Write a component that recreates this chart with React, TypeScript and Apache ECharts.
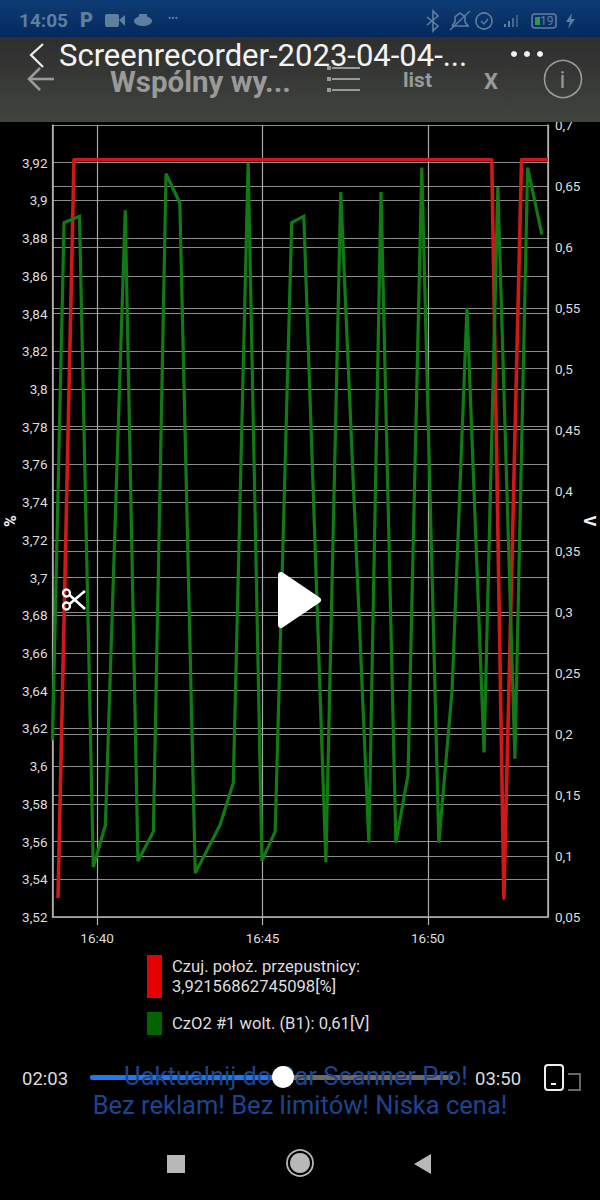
import React, { useEffect, useRef } from "react";
import * as echarts from "echarts";

const redName = "Czuj. położ. przepustnicy:\n3,92156862745098[%]";
const greenName = "CzO2 #1 wolt. (B1): 0,61[V]";

const redTimes = ["16:38:49", "16:39:18", "16:51:56", "16:52:18", "16:52:50", "16:53:38"];
const redValues = [3.53, 3.92157, 3.92157, 3.53, 3.92157, 3.92157];

const greenTimes = [
  "16:38:39", "16:39:00", "16:39:28", "16:39:53", "16:40:15", "16:40:51", "16:41:14", "16:41:42",
  "16:42:05", "16:42:30", "16:42:58", "16:43:43", "16:44:07", "16:44:34", "16:44:59", "16:45:23",
  "16:45:53", "16:46:15", "16:46:55", "16:47:22", "16:48:13", "16:48:35", "16:49:02", "16:49:24",
  "16:49:49", "16:50:20", "16:50:44", "16:51:11", "16:51:42", "16:52:07", "16:52:38", "16:53:01",
  "16:53:27",
];
const greenValues = [
  0.195, 0.62, 0.625, 0.091, 0.1255, 0.63, 0.096, 0.12,
  0.66, 0.636, 0.086, 0.1255, 0.16, 0.669, 0.096, 0.12,
  0.62, 0.625, 0.095, 0.645, 0.111, 0.645, 0.111, 0.1665,
  0.665, 0.111, 0.236, 0.55, 0.185, 0.649, 0.18, 0.665,
  0.61,
];

const toMs = (s: string) => {
  const [h, m, sec] = s.split(":").map(Number);
  return new Date(2023, 3, 4, h, m, sec).getTime();
};
const comma = (v: number) => String(Math.round(v * 100) / 100).replace(".", ",");

const FONT = "Roboto";
const gridColor = "#8c8c8c";
const axisColor = "#b4b4b4";

function chrome(): any[] {
  const T = (x: number, y: number, text: string, size: number, fill: string, extra: any = {}) => ({
    type: "text", x, y, z: 50,
    style: { text, fontSize: size, fontFamily: FONT, fill, textVerticalAlign: "middle", verticalAlign: "middle", ...extra },
  });
  const R = (x: number, y: number, w: number, h: number, fill: any, extra: any = {}) => ({
    type: "rect", z: 40, shape: { x, y, width: w, height: h, ...extra }, style: { fill },
  });
  const L = (pts: number[][], stroke: string, lineWidth: number, z = 45) => ({
    type: "polyline", z, shape: { points: pts }, style: { stroke, lineWidth, fill: "none" },
  });
  const statusInk = "#5f7f9f";
  const headerInk = "#9a9a9a";
  const out: any[] = [
    R(0, 0, 600, 37, new echarts.graphic.LinearGradient(0, 0, 0, 1, [
      { offset: 0, color: "#0e3c74" }, { offset: 1, color: "#04295f" },
    ])),
    R(0, 37, 600, 85, new echarts.graphic.LinearGradient(0, 0, 0, 1, [
      { offset: 0, color: "#2e2e2e" }, { offset: 1, color: "#40443e" },
    ])),
    // status bar
    T(19, 20, "14:05", 19, statusInk, { fontWeight: "bold" }),
    T(80, 20, "P", 20, statusInk, { fontWeight: "900" }),
    R(105, 14, 14, 13, statusInk, { r: 2 }),
    { type: "polygon", z: 45, shape: { points: [[119, 20], [125, 15], [125, 26]] }, style: { fill: statusInk } },
    { type: "ellipse", z: 45, shape: { cx: 143, cy: 21, rx: 9, ry: 5 }, style: { fill: statusInk } },
    R(139, 14, 8, 4, statusInk),
    T(168, 18, "•••", 10, statusInk),
    L([[427, 17], [438, 26], [433, 31], [433, 11], [438, 16], [427, 25]], statusInk, 1.6),
    L([[452, 26], [455, 22], [455, 17], [460, 13], [465, 17], [465, 22], [468, 26], [452, 26]], statusInk, 1.6),
    L([[450, 30], [470, 11]], statusInk, 1.4),
    { type: "circle", z: 45, shape: { cx: 484, cy: 21, r: 8 }, style: { stroke: statusInk, fill: "none", lineWidth: 1.6 } },
    L([[481, 21], [484, 24], [488, 19]], statusInk, 1.3),
    R(504, 24, 2, 3, statusInk), R(508, 21, 2, 6, statusInk), R(512, 18, 2, 9, "#4a6a8c"), R(516, 15, 2, 12, "#3d5d80"),
    { type: "rect", z: 45, shape: { x: 532, y: 14, width: 24, height: 14, r: 3 }, style: { stroke: statusInk, fill: "none", lineWidth: 1.6 } },
    R(535, 17, 5, 8, "#2f9a3e"),
    T(540, 21, "19", 12, statusInk),
    { type: "polygon", z: 45, shape: { points: [[572, 13], [566, 22], [570, 22], [568, 29], [575, 19], [571, 19]] }, style: { fill: statusInk } },
    // video player bar
    L([[43, 44], [31, 55], [43, 67]], "#f0f0f0", 2.2),
    T(59, 55, "Screenrecorder-2023-04-04-...", 31, "#f4f4f4"),
    { type: "circle", z: 45, shape: { cx: 514, cy: 54, r: 3 }, style: { fill: "#f4f4f4" } },
    { type: "circle", z: 45, shape: { cx: 527, cy: 54, r: 3 }, style: { fill: "#f4f4f4" } },
    { type: "circle", z: 45, shape: { cx: 540, cy: 54, r: 3 }, style: { fill: "#f4f4f4" } },
    // app bar
    L([[40, 68], [29, 79], [40, 90]], headerInk, 2.6),
    L([[29, 79], [54, 79]], headerInk, 2.6),
    T(110, 82, "Wspólny wy...", 29.5, headerInk, { fontWeight: "bold" }),
    L([[332, 68], [360, 68]], headerInk, 2),
    L([[332, 79], [360, 79]], headerInk, 2),
    L([[332, 90], [360, 90]], headerInk, 2),
    R(327, 66, 4, 4, headerInk), R(327, 77, 4, 4, headerInk), R(327, 88, 4, 4, headerInk),
    T(403, 80, "list", 21, headerInk, { fontWeight: "bold" }),
    T(484, 81, "X", 22, headerInk, { fontWeight: "bold" }),
    { type: "circle", z: 45, shape: { cx: 563, cy: 79, r: 18.5 }, style: { stroke: headerInk, fill: "none", lineWidth: 1.6 } },
    T(559.5, 80, "i", 24, headerInk),
    // video overlays
    { type: "polygon", z: 60, shape: { points: [[281, 575], [318, 600], [281, 625]] }, style: { fill: "#fff", stroke: "#fff", lineWidth: 6, lineJoin: "round" } },
    { type: "circle", z: 60, shape: { cx: 66.5, cy: 593, r: 3.5 }, style: { fill: "none", stroke: "#fff", lineWidth: 2.4 } },
    { type: "circle", z: 60, shape: { cx: 66.5, cy: 606, r: 3.5 }, style: { fill: "none", stroke: "#fff", lineWidth: 2.4 } },
    L([[69.5, 595], [85, 609]], "#fff", 2.6, 60),
    L([[69.5, 604], [85, 591]], "#fff", 2.6, 60),
    // footer
    T(296, 1076, "Uaktualnij do Car Scanner Pro!", 25.5, "#1a4690", { textAlign: "center", align: "center" }),
    T(300, 1105, "Bez reklam! Bez limitów! Niska cena!", 25.5, "#1a4690", { textAlign: "center", align: "center" }),
    R(283, 1075, 170, 5, "#6a6a6a", { r: 2 }),
    R(90, 1075, 193, 5, "#1f78ec", { r: 2 }),
    { type: "circle", z: 61, shape: { cx: 283, cy: 1077, r: 11 }, style: { fill: "#fff" } },
    T(22, 1079, "02:03", 18.5, "#dcdcdc"),
    T(475, 1079, "03:50", 18.5, "#dcdcdc"),
    { type: "rect", z: 45, shape: { x: 545, y: 1065, width: 18, height: 25, r: 3 }, style: { stroke: "#f0f0f0", fill: "none", lineWidth: 2 } },
    R(551, 1083, 5, 2, "#f0f0f0"),
    L([[568, 1074], [580, 1074], [580, 1090], [568, 1090]], "#666", 2),
    R(167, 1155, 18, 18, "#b8b8b8"),
    { type: "circle", z: 45, shape: { cx: 300, cy: 1163, r: 13 }, style: { stroke: "#b8b8b8", fill: "none", lineWidth: 1.8 } },
    { type: "circle", z: 45, shape: { cx: 300, cy: 1163, r: 10 }, style: { fill: "#b8b8b8" } },
    { type: "polygon", z: 45, shape: { points: [[431, 1154], [431, 1174], [414, 1164]] }, style: { fill: "#b8b8b8" } },
  ];
  return out;
}

export default function App() {
  const ref = useRef<HTMLDivElement>(null);
  useEffect(() => {
    document.body.style.margin = "0";
    document.body.style.background = "#000";
    const chart = echarts.init(ref.current!, null, { renderer: "svg" });
    const axisLabel = { color: "#dedede", fontSize: 13.5, fontFamily: FONT };
    chart.setOption({
      animation: false,
      backgroundColor: "#000",
      grid: { left: 52.5, right: 52, top: 125, bottom: 283, outerBoundsMode: "none" },
      xAxis: {
        type: "time",
        min: toMs("16:38:39"),
        max: toMs("16:53:38"),
        splitNumber: 2,
        axisLine: { show: true, lineStyle: { color: axisColor, width: 1.5 } },
        axisTick: { show: true, length: 8, lineStyle: { color: axisColor, width: 1.2 } },
        minorTick: { show: false },
        axisLabel: {
          ...axisLabel, margin: 14, showMinLabel: false, showMaxLabel: false,
          formatter: (v: number) => {
            const d = new Date(v);
            return `${d.getHours()}:${String(d.getMinutes()).padStart(2, "0")}`;
          },
        },
        splitLine: { show: true, lineStyle: { color: "#a8a8a8", width: 1.2 } },
      },
      yAxis: [
        {
          type: "value", min: 3.52, max: 3.94, interval: 0.02, position: "left",
          name: "%", nameLocation: "middle", nameGap: 34, nameRotate: 90, nameMoveOverlap: false,
          nameTextStyle: { color: "#f0f0f0", fontSize: 16, fontWeight: "bold", fontFamily: FONT },
          axisLine: { show: true, lineStyle: { color: axisColor, width: 1.5 } },
          axisTick: { show: false },
          axisLabel: { ...axisLabel, margin: 5, showMaxLabel: false, formatter: comma },
          splitLine: { show: true, lineStyle: { color: gridColor, width: 1.2 } },
        },
        {
          type: "value", min: 0.05, max: 0.7, interval: 0.05, position: "right",
          name: "V", nameLocation: "middle", nameGap: 33, nameRotate: -90, nameMoveOverlap: false,
          nameTextStyle: { color: "#f0f0f0", fontSize: 16, fontWeight: "bold", fontFamily: FONT },
          axisLine: { show: true, lineStyle: { color: axisColor, width: 1.5 } },
          axisTick: { show: false },
          axisLabel: { ...axisLabel, margin: 7, formatter: comma },
          splitLine: { show: true, lineStyle: { color: gridColor, width: 1.2 } },
        },
      ],
      legend: [
        {
          data: [redName], orient: "vertical", left: 147, top: 955,
          itemWidth: 15, itemHeight: 43, icon: "rect", itemGap: 0, padding: 0,
          textStyle: { color: "#dedede", fontSize: 16.6, fontFamily: FONT, lineHeight: 20, padding: [0, 0, 0, 5] },
        },
        {
          data: [greenName], orient: "vertical", left: 147, top: 1012,
          itemWidth: 15, itemHeight: 23, icon: "rect", itemGap: 0, padding: 0,
          textStyle: { color: "#dedede", fontSize: 16.6, fontFamily: FONT, padding: [0, 0, 0, 5] },
        },
      ],
      series: [
        {
          name: redName, type: "line", yAxisIndex: 0, showSymbol: false, symbol: "none",
          data: redTimes.map((t, i) => [toMs(t), redValues[i]]),
          lineStyle: { color: "#d01818", width: 3.6, join: "round" },
          itemStyle: { color: "#e60000" }, z: 3,
        },
        {
          name: greenName, type: "line", yAxisIndex: 1, showSymbol: false, symbol: "none",
          data: greenTimes.map((t, i) => [toMs(t), greenValues[i]]),
          lineStyle: { color: "#127a14", width: 3.2, join: "miter" },
          itemStyle: { color: "#006400" }, z: 4,
        },
      ],
      graphic: { elements: chrome() },
    });
    return () => chart.dispose();
  }, []);
  return <div ref={ref} style={{ position: "absolute", left: 0, top: 0, width: 600, height: 1200 }} />;
}
